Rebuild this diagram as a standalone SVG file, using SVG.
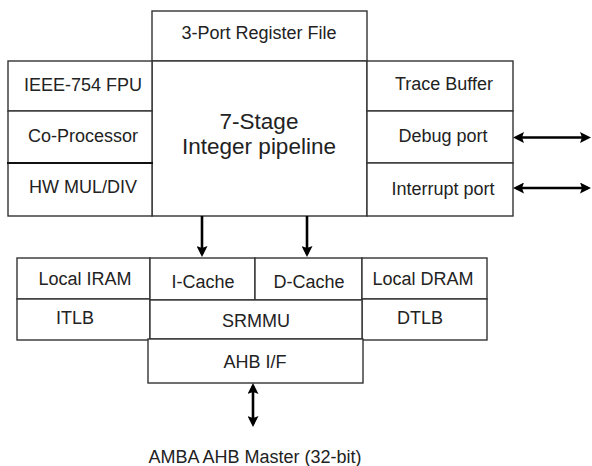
<svg xmlns="http://www.w3.org/2000/svg" width="592" height="466" viewBox="0 0 592 466">
<defs>
<style>
.box{fill:#fff;stroke:#333;stroke-width:1.4}
.div{stroke:#333;stroke-width:1.4}
.thick{stroke:#111;stroke-width:2.2}
.t{font-family:"Liberation Sans",Arial,sans-serif;font-size:18px;fill:#222;text-anchor:middle}
.big{font-size:22.5px}
.arr{stroke:#000;stroke-width:2.6;fill:none;marker-end:url(#ah)}
.bi{stroke:#000;stroke-width:2.6;fill:none;marker-end:url(#ah);marker-start:url(#ah)}
</style>
<marker id="ah" markerUnits="userSpaceOnUse" viewBox="0 0 11 11" refX="8" refY="5.5" markerWidth="11" markerHeight="11" orient="auto-start-reverse">
<path d="M0,0 L11,5.5 L0,11 L2,5.5 z" fill="#000"/>
</marker>
</defs>
<rect width="592" height="466" fill="#fff"/>
<g id="regfile">
<rect class="box" x="152" y="11" width="215" height="50"/>
<text class="t" x="259" y="39">3-Port Register File</text>
</g>
<g id="pipeline">
<rect class="box" x="152" y="61" width="215" height="155"/>
<text class="t big" x="259" y="129">7-Stage</text>
<text class="t big" x="259" y="154">Integer pipeline</text>
</g>
<g id="fpu">
<rect class="box" x="8" y="61" width="144" height="50"/>
<text class="t" x="83" y="91">IEEE-754 FPU</text>
</g>
<g id="coproc">
<rect class="box" x="8" y="111" width="144" height="52"/>
<text class="t" x="83" y="142">Co-Processor</text>
</g>
<g id="muldiv">
<rect class="box" x="8" y="163" width="144" height="53"/>
<line class="thick" x1="7" y1="163" x2="153" y2="163"/>
<text class="t" x="83" y="193">HW MUL/DIV</text>
</g>
<g id="trace">
<rect class="box" x="367" y="61" width="146" height="50"/>
<text class="t" x="444" y="90">Trace Buffer</text>
</g>
<g id="debug">
<rect class="box" x="367" y="111" width="146" height="52"/>
<text class="t" x="443" y="142">Debug port</text>
</g>
<g id="interrupt">
<rect class="box" x="367" y="163" width="146" height="53"/>
<text class="t" x="443" y="195">Interrupt port</text>
</g>
<g id="iram">
<rect class="box" x="17" y="258" width="133" height="41"/>
<text class="t" x="85" y="285">Local IRAM</text>
</g>
<g id="itlb">
<rect class="box" x="17" y="299" width="133" height="41"/>
<text class="t" x="75" y="324">ITLB</text>
</g>
<g id="icache">
<rect class="box" x="150" y="258" width="105" height="42"/>
<text class="t" x="203" y="288">I-Cache</text>
</g>
<g id="dcache">
<rect class="box" x="255" y="258" width="107" height="42"/>
<text class="t" x="309" y="288">D-Cache</text>
</g>
<g id="dram">
<rect class="box" x="362" y="258" width="125" height="41"/>
<text class="t" x="423" y="285">Local DRAM</text>
</g>
<g id="dtlb">
<rect class="box" x="362" y="299" width="125" height="41"/>
<text class="t" x="420" y="324">DTLB</text>
</g>
<g id="srmmu">
<rect class="box" x="150" y="300" width="212" height="39"/>
<text class="t" x="256" y="327">SRMMU</text>
</g>
<g id="ahbif">
<rect class="box" x="148" y="339" width="215" height="44"/>
<text class="t" x="255" y="368">AHB I/F</text>
</g>
<g id="amba">
<text class="t" x="255" y="463">AMBA AHB Master (32-bit)</text>
</g>
<g id="connectors">
<line class="arr" x1="202" y1="216" x2="202" y2="254"/>
<line class="arr" x1="307" y1="216" x2="307" y2="254"/>
<line class="bi" x1="516" y1="137.5" x2="588" y2="137.5"/>
<line class="bi" x1="516" y1="188" x2="588" y2="188"/>
<line class="bi" x1="253" y1="386" x2="253" y2="424"/>
</g>
</svg>
